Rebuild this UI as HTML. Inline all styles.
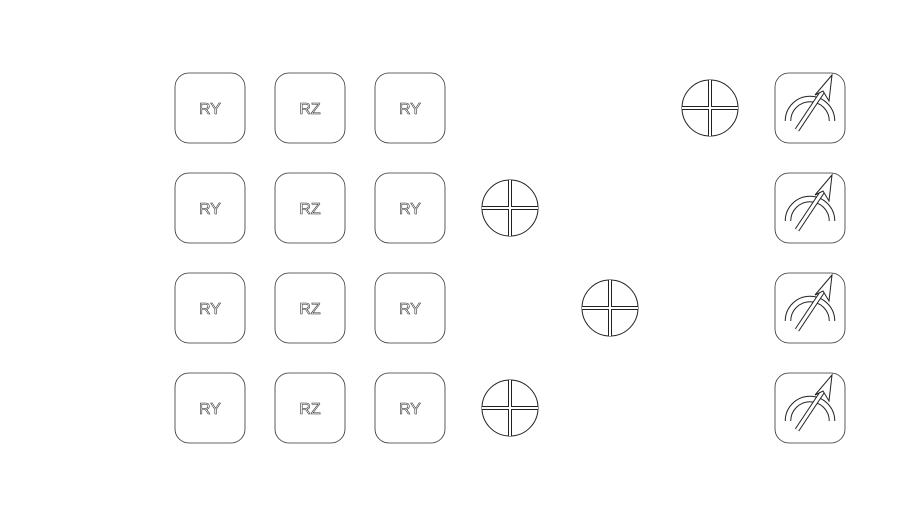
<!DOCTYPE html>
<html><head><style>
html,body{margin:0;padding:0;background:#fff;width:919px;height:519px;overflow:hidden}
</style></head><body>
<svg width="919" height="519" viewBox="0 0 919 519" xmlns="http://www.w3.org/2000/svg">
<defs>
<g id="oplus">
  <circle cx="0" cy="0" r="28" fill="#fff" stroke="#222" stroke-width="1"/>
  <line x1="-28" y1="0" x2="28" y2="0" stroke="#222" stroke-width="4"/>
  <line x1="0" y1="-28" x2="0" y2="28" stroke="#222" stroke-width="4"/>
  <line x1="-28" y1="0" x2="28" y2="0" stroke="#fff" stroke-width="2"/>
  <line x1="0" y1="-28" x2="0" y2="28" stroke="#fff" stroke-width="2"/>
</g>
<g id="meter">
  <rect x="0" y="0" width="70" height="70" rx="14" fill="#fff" stroke="#333" stroke-width="0.8"/>
  <path d="M13,48 A22,22 0 0 1 57,48" fill="none" stroke="#222" stroke-width="6.5"/>
  <path d="M13,48 A22,22 0 0 1 57,48" fill="none" stroke="#fff" stroke-width="4.5"/>
  <line x1="22" y1="57" x2="52" y2="12" stroke="#222" stroke-width="5"/>
  <line x1="22" y1="57" x2="52" y2="12" stroke="#fff" stroke-width="3"/>
  <path d="M57,2 L54,28 L48,18 L40,22 Z" fill="#fff" stroke="#222" stroke-width="1"/>
</g>
</defs>
<g font-family="Liberation Sans, sans-serif" font-size="16" text-anchor="middle" fill="#fff" stroke="#333" stroke-width="0.6">
<g id="r1">
<rect x="175" y="73" width="70" height="70" rx="14" fill="#fff" stroke="#333" stroke-width="0.8"/>
<rect x="275" y="73" width="70" height="70" rx="14" fill="#fff" stroke="#333" stroke-width="0.8"/>
<rect x="375" y="73" width="70" height="70" rx="14" fill="#fff" stroke="#333" stroke-width="0.8"/>
<text x="210" y="114">RY</text><text x="310" y="114">RZ</text><text x="410" y="114">RY</text>
</g>
<use href="#r1" y="100"/>
<use href="#r1" y="200"/>
<use href="#r1" y="300"/>
</g>
<use href="#oplus" x="710" y="108"/>
<use href="#oplus" x="510" y="208"/>
<use href="#oplus" x="610" y="308"/>
<use href="#oplus" x="510" y="408"/>
<use href="#meter" x="775" y="73"/>
<use href="#meter" x="775" y="173"/>
<use href="#meter" x="775" y="273"/>
<use href="#meter" x="775" y="373"/>
</svg>
</body></html>
